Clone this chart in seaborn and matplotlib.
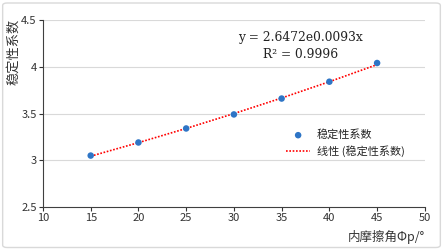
import numpy as np
import pandas as pd
import matplotlib
matplotlib.use("Agg")
import matplotlib.pyplot as plt
import seaborn as sns
from matplotlib.patches import FancyBboxPatch

# data
friction_angle = [15, 20, 25, 30, 35, 40, 45]
stability = [3.05, 3.19, 3.34, 3.49, 3.66, 3.84, 4.04]
fit_a = 2.6472
fit_b = 0.0093
x_ticks = [10, 15, 20, 25, 30, 35, 40, 45, 50]
y_ticks = [2.5, 3, 3.5, 4, 4.5]
y_tick_labels = ["2.5", "3", "3.5", "4", "4.5"]

sns.set_theme(style="white")
plt.rcParams['font.family'] = ['Noto Sans CJK SC', 'DejaVu Sans']

df = pd.DataFrame({"x": friction_angle, "y": stability})
df["trend"] = fit_a * np.exp(fit_b * df["x"])

fig = plt.figure(figsize=(4.43, 2.5), dpi=100)
fig.patch.set_facecolor("white")
border = FancyBboxPatch((0.006, 0.01), 0.988, 0.978, boxstyle="round,pad=0,rounding_size=0.01",
                        transform=fig.transFigure, fill=False, edgecolor="#d9d9d9", linewidth=1.0)
fig.patches.append(border)

ax = fig.add_axes([0.097, 0.172, 0.862, 0.748])
for yv in y_ticks[1:]:
    ax.axhline(yv, color="#d9d9d9", linewidth=0.8, zorder=0)

sns.lineplot(data=df, x="x", y="trend", ax=ax, color="red", linestyle=(0, (1, 1)),
             linewidth=1.2, label="线性 (稳定性系数)", zorder=2)
sns.scatterplot(data=df, x="x", y="y", ax=ax, color="#2E75C6", s=22, edgecolor="none",
                label="稳定性系数", zorder=3)

ax.set_xlim(10, 50)
ax.set_ylim(2.5, 4.5)
ax.set_xticks(x_ticks)
ax.set_yticks(y_ticks)
ax.set_yticklabels(y_tick_labels)
ax.tick_params(axis="both", labelsize=8, length=3, width=0.8, colors="#333333", pad=1.5, direction="out")
ax.tick_params(axis="both", which="both", bottom=True, left=True)
for s in ["top", "right"]:
    ax.spines[s].set_visible(False)
for s in ["left", "bottom"]:
    ax.spines[s].set_color("#404040")
    ax.spines[s].set_linewidth(0.8)

ax.set_xlabel("")
ax.set_ylabel("")
fig.text(0.959, 0.025, "内摩擦角Φp/°", ha="right", va="bottom", fontsize=9, color="#333333")
fig.text(0.03, 0.925, "稳定性系数", ha="center", va="top", rotation=90, fontsize=9.5, color="#333333")

ax.text(0.675, 0.904, "y = 2.6472e0.0093x", transform=ax.transAxes, ha="center", va="center",
        fontsize=8.8, family=["DejaVu Serif"], color="#222222")
ax.text(0.675, 0.813, "R² = 0.9996", transform=ax.transAxes, ha="center", va="center",
        fontsize=8.8, family=["DejaVu Serif"], color="#222222")

handles, labels = ax.get_legend_handles_labels()
order = [labels.index("稳定性系数"), labels.index("线性 (稳定性系数)")]
ax.legend([handles[i] for i in order], [labels[i] for i in order], loc="center left",
          bbox_to_anchor=(0.61, 0.342), frameon=False, fontsize=8, handlelength=2.2,
          handletextpad=0.6, labelspacing=0.45)

fig.savefig("out.png", dpi=100)
